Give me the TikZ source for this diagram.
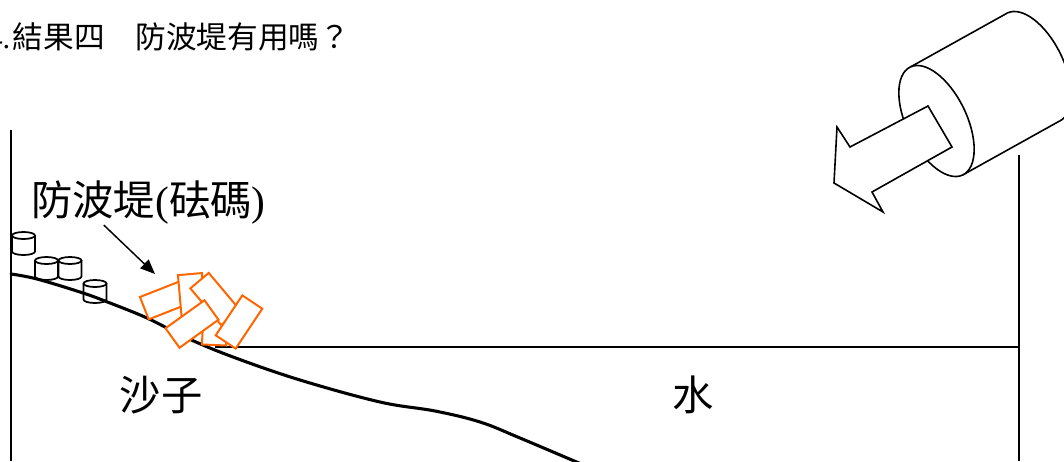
\documentclass[tikz,border=0pt]{standalone}
\usepackage{fontspec}
\setmainfont{Liberation Serif}
\newfontfamily\cjk{Noto Sans CJK TC}
\usepackage{xcolor}
\definecolor{weightorange}{RGB}{255,102,0}
\usetikzlibrary{arrows.meta,calc}

\begin{document}
\begin{tikzpicture}[
  x=0.75pt, y=-0.75pt,
  wall/.style={line width=1.5pt},
  sandline/.style={line width=2.3pt, line join=round, line cap=round},
  waterline/.style={line width=1.1pt},
  weightbox/.style={draw=weightorange, fill=white, line width=1.5pt, minimum width=36pt, minimum height=18pt, inner sep=0pt},
  cylline/.style={line width=1.3pt},
  makerline/.style={line width=1.2pt},
  bigtext/.style={inner sep=0pt, font=\fontsize{31}{34}\selectfont},
  ptr/.style={-{Triangle[length=11pt,width=9pt]}, line width=1.1pt}
]
\useasboundingbox (0,0) rectangle (1064,461);
\clip (0,0) rectangle (1064,461);

\node[inner sep=0pt, anchor=west, font=\fontsize{23}{26}\selectfont] (title) at (-13,37) {4.\kern2pt{\cjk 結果四　防波堤有用嗎？}};

\draw[wall] (11,130) -- (11,461);
\draw[wall] (1019,155) -- (1019,461);
\draw[waterline] (215,347) -- (1019,347);

\draw[sandline] plot[smooth, tension=0.6] coordinates {(11,274) (37,279) (83,293) (110,303) (147,318) (187,338) (233,357) (300,380) (380,402) (435,411) (480,422) (520,438) (600,472)};

\foreach \cx/\cy in {23.5/235.5, 46.5/260.5, 70/260.5, 95/283.5} {
  \draw[cylline] (\cx-11.5,\cy) -- (\cx-11.5,\cy+16) arc[start angle=180, end angle=0, x radius=11.5, y radius=3.5] -- (\cx+11.5,\cy);
  \draw[cylline] (\cx,\cy) ellipse[x radius=11.5, y radius=3.5];
}

\node[weightbox, rotate=21.5] (w1) at (166.7,299.4) {};
\node[weightbox, rotate=-85] (w2) at (192,298) {};
\node[weightbox, rotate=-92.4] (w3) at (215,321) {};
\node[weightbox, rotate=-50] (w4) at (215,299) {};
\node[weightbox, rotate=56.3] (w5) at (239,322) {};
\node[weightbox, rotate=35.7] (w6) at (192,324) {};

\node[bigtext, anchor=west] (lbl) at (31,203) {{\cjk 防波堤}({\cjk 砝碼})};
\coordinate (tip) at (155,274);
\draw[ptr] ($(lbl.south west)!0.31!(lbl.south east)$) -- (tip);

\node[bigtext] (sand) at (161,395) {\cjk 沙子};
\node[bigtext] (water) at (693,395) {\cjk 水};

\draw[makerline] (910.2,67.1) -- (1007.2,13.1);
\draw[makerline] (962.8,174.9) -- (1059.8,120.9);
\begin{scope}[shift={(1033.5,67)}, rotate=-64]
  \draw[makerline] (-60,0) arc[start angle=180, end angle=360, x radius=60, y radius=30];
\end{scope}
\begin{scope}[shift={(936.5,121)}, rotate=-64]
  \draw[makerline, fill=white] (0,0) ellipse[x radius=60, y radius=30];
\end{scope}
\draw[makerline, fill=white, line join=miter] (928,106) -- (952,147) -- (872,192) -- (883,212) -- (834,183) -- (837,127) -- (850,147) -- cycle;
\end{tikzpicture}
\end{document}
